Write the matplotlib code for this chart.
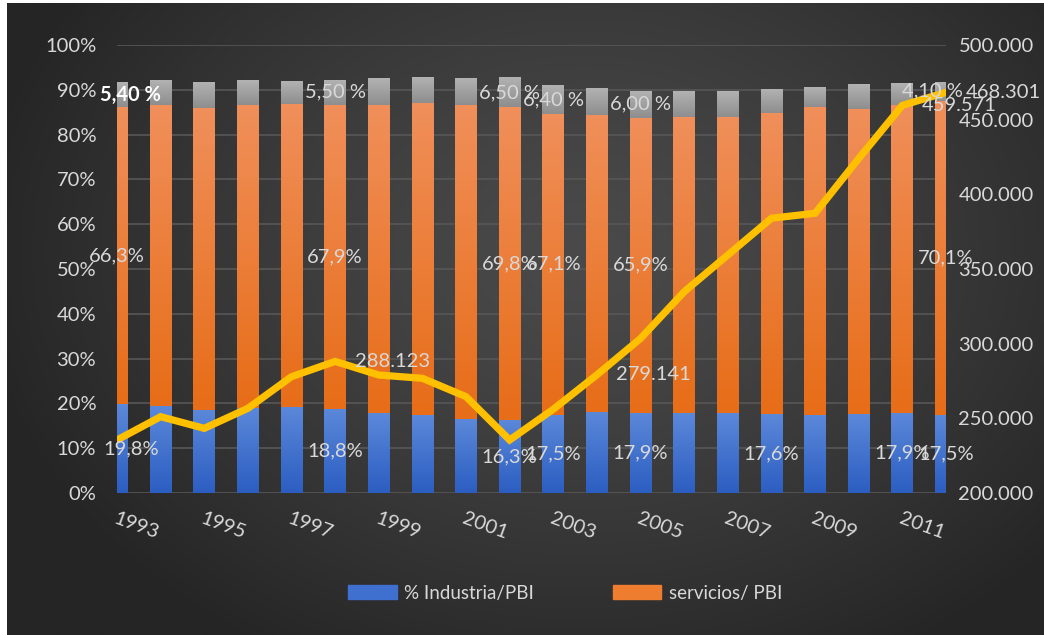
import numpy as np
import matplotlib
matplotlib.use("Agg")
from matplotlib import pyplot as plt
from matplotlib.colors import LinearSegmentedColormap, to_rgb

plt.rcParams["font.family"] = ["Lato", "DejaVu Sans"]

years = list(range(1993, 2013))
industria = [19.8, 19.5, 18.6, 19.0, 19.2, 18.8, 17.8, 17.3, 16.5, 16.3,
             17.5, 18.1, 17.9, 17.8, 17.8, 17.6, 17.3, 17.6, 17.9, 17.5]
servicios = [66.3, 67.0, 67.3, 67.5, 67.6, 67.9, 68.9, 69.7, 70.0, 69.8,
             67.1, 66.2, 65.9, 66.2, 66.2, 67.3, 68.8, 68.1, 68.7, 70.1]
agro = [5.4, 5.4, 5.8, 5.4, 5.1, 5.5, 6.0, 5.8, 5.9, 6.5,
        6.4, 5.9, 6.0, 5.7, 5.7, 5.3, 4.3, 5.4, 4.7, 4.1]
pbi = [235500, 251100, 243300, 256700, 277900, 288123, 279000, 276800, 264500, 235500,
       256100, 279141, 303500, 334800, 359400, 384000, 387300, 424000, 459571, 468301]

# which bars / points carry a data label
lab_industria = [0, 5, 9, 10, 12, 15, 18, 19]
lab_servicios = [0, 5, 9, 10, 12, 19]
lab_agro = [0, 5, 9, 10, 12, 19]
lab_pbi = [5, 11, 18, 19]

TXT = "#d9d9d9"
W, H = 1044, 635

fig = plt.figure(figsize=(W / 100, H / 100), dpi=100)
fig.patch.set_facecolor("white")

# dark radial background
bg = fig.add_axes([7 / W, 0, 1 - 7 / W, 1 - 3 / H], zorder=-5)
bg.axis("off")
yy, xx = np.mgrid[0:H, 0:W]
r = np.sqrt(((xx - 580) / 620.0) ** 2 + ((yy - 250) / 470.0) ** 2)
t = np.clip(r, 0, 1) ** 1.3
inner, outer = np.array(to_rgb("#4a4a4a")), np.array(to_rgb("#252525"))
img = inner[None, None, :] * (1 - t[..., None]) + outer[None, None, :] * t[..., None]
bg.imshow(img, aspect="auto", extent=[0, 1, 0, 1], origin="upper")
bg.set_xlim(0, 1)
bg.set_ylim(0, 1)

ax = fig.add_axes([117 / W, (H - 493) / H, 829 / W, 448 / H])
ax.set_facecolor("none")
x = np.arange(len(years))
bw = 0.5


def gradient_bars(ax, x, height, bottom, c_top, c_bot):
    bars = ax.bar(x, height, bw, bottom=bottom, color="none", edgecolor="none", zorder=2)
    cmap = LinearSegmentedColormap.from_list("g", [c_bot, c_top])
    grad = np.linspace(0, 1, 64).reshape(-1, 1)
    for b in bars:
        x0, y0 = b.get_x(), b.get_y()
        ax.imshow(grad, extent=[x0, x0 + b.get_width(), y0, y0 + b.get_height()],
                  origin="lower", cmap=cmap, aspect="auto", zorder=2,
                  interpolation="bilinear")
    return bars


ind = np.array(industria)
ser = np.array(servicios)
agr = np.array(agro)
gradient_bars(ax, x, ind, 0, "#5b88d9", "#2c5ec2")
gradient_bars(ax, x, ser, ind, "#f08f5a", "#e76d18")
gradient_bars(ax, x, agr, ind + ser, "#b2b2b2", "#8e8e8e")

ax.set_xlim(0, len(years) - 1)
ax.set_ylim(0, 100)
ax.set_yticks(np.arange(0, 101, 10))
ax.set_yticklabels([f"{v}%" for v in range(0, 101, 10)])
ax.grid(axis="y", color="#575757", linewidth=1.2, zorder=0)
ax.set_axisbelow(True)
ax.set_xticks(x[::2])
ax.set_xticklabels([str(y) for y in years[::2]], rotation=-20, ha="left",
                   rotation_mode="anchor")
ax.tick_params(axis="y", length=0, pad=15, labelsize=14.5, labelcolor=TXT)
ax.tick_params(axis="x", length=0, pad=12, labelsize=14.5, labelcolor=TXT)
for s in ax.spines.values():
    s.set_visible(False)

# GDP line on the secondary axis
ax2 = ax.twinx()
ax2.plot(x, pbi, color="#ffc000", linewidth=5.2, zorder=3, solid_joinstyle="miter")
ax2.set_ylim(200000, 500000)
ax2.set_yticks(np.arange(200000, 500001, 50000))
ax2.set_yticklabels([f"{v:,.0f}".replace(",", ".") for v in range(200000, 500001, 50000)])
ax2.tick_params(axis="y", length=0, pad=9, labelsize=14.5, labelcolor=TXT)
for s in ax2.spines.values():
    s.set_visible(False)

# data labels, drawn on the top axes so they sit over the line
shift = {("i", 0): 10, ("a", 0): 10, ("a", 19): -10}
for i in lab_industria:
    ax2.annotate(f"{industria[i]:.1f}%".replace(".", ","), (x[i], ind[i] / 2),
                 xycoords=ax.transData, xytext=(shift.get(("i", i), 0), 0),
                 textcoords="offset points", ha="center", va="center",
                 color=TXT, fontsize=14.5, zorder=5, annotation_clip=False)
for i in lab_servicios:
    ax2.annotate(f"{servicios[i]:.1f}%".replace(".", ","), (x[i], ind[i] + ser[i] / 2),
                 xycoords=ax.transData, ha="center", va="center",
                 color=TXT, fontsize=14.5, zorder=5, annotation_clip=False)
for i in lab_agro:
    ax2.annotate(f"{agro[i]:.2f} %".replace(".", ","), (x[i], ind[i] + ser[i] + agr[i] / 2),
                 xycoords=ax.transData, xytext=(shift.get(("a", i), 0), 0),
                 textcoords="offset points", ha="center", va="center",
                 color="white" if i == 0 else TXT, fontsize=14.5,
                 fontweight="bold" if i == 0 else "normal", zorder=5,
                 annotation_clip=False)
for i in lab_pbi:
    ax2.annotate(f"{pbi[i]:,.0f}".replace(",", "."), (x[i], pbi[i]),
                 xytext=(14, 0), textcoords="offset points", ha="left", va="center",
                 color=TXT, fontsize=14.5, zorder=5, annotation_clip=False)

# legend only for the two main shares
from matplotlib.patches import Patch
handles = [Patch(color="#3f70cf"), Patch(color="#ee7d30")]
fig.legend(handles, ["% Industria/PBI", "servicios/ PBI"], loc="center",
           bbox_to_anchor=(565 / W, (H - 593) / H), ncol=2, frameon=False,
           fontsize=13.5, labelcolor=TXT, handlelength=2.6, handleheight=0.7,
           handletextpad=0.4, columnspacing=4.2)

fig.savefig("out.png", dpi=100, facecolor=fig.get_facecolor())
